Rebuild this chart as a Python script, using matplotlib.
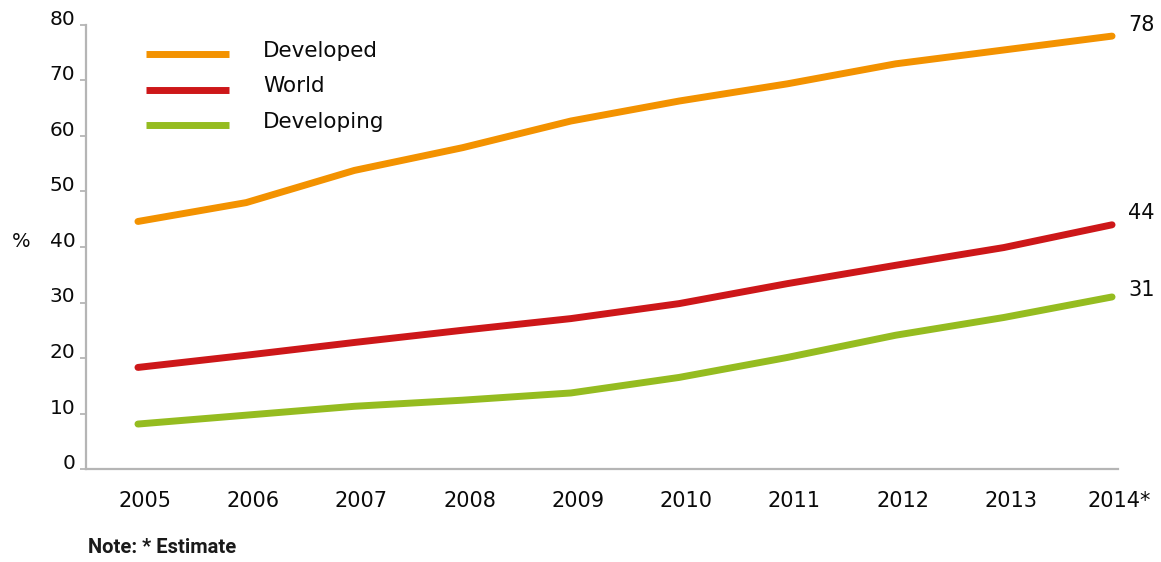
import matplotlib
matplotlib.use("Agg")
import matplotlib.pyplot as plt
from matplotlib.transforms import ScaledTranslation, blended_transform_factory

# Households with Internet access, %
years = [2005, 2006, 2007, 2008, 2009, 2010, 2011, 2012, 2013, 2014]
year_labels = ["2005", "2006", "2007", "2008", "2009", "2010", "2011", "2012", "2013", "2014*"]
developed = [44.6, 48.0, 53.8, 57.9, 62.7, 66.3, 69.4, 73.0, 75.5, 78]
world = [18.3, 20.5, 22.8, 25.0, 27.1, 29.8, 33.4, 36.7, 39.9, 44]
developing = [8.1, 9.7, 11.3, 12.4, 13.7, 16.5, 20.1, 24.1, 27.3, 31]
series_names = ["Developed", "World", "Developing"]
y_ticks = [0, 10, 20, 30, 40, 50, 60, 70, 80]

colors = ["#F39200", "#CD1719", "#95BC20"]
end_offsets = [(16, 5), (16, 6), (16, 1)]  # pixel offsets of the end-value labels
ink = "#0a0a0a"

plt.rcParams["font.family"] = ["DejaVu Sans"]

fig = plt.figure(figsize=(11.61, 5.62), dpi=100)
ax = fig.add_axes([86 / 1161, 93 / 562, 1032 / 1161, 444 / 562])

for vals, name, col, off in zip([developed, world, developing], series_names, colors, end_offsets):
    ax.plot(years, vals, color=col, lw=5.0, solid_capstyle="round",
            solid_joinstyle="round", label=name)
    ax.annotate(f"{vals[-1]:.0f}", xy=(years[-1], vals[-1]), xytext=off,
                textcoords="offset pixels", ha="left", va="baseline",
                fontsize=15, color=ink)

ax.set_xlim(years[0] - 0.48, years[-1] + 0.055)
ax.set_ylim(0, 80)

ax.set_yticks(y_ticks)
ax.set_yticklabels([str(t) for t in y_ticks])
ax.set_xticks(years)
ax.set_xticklabels(year_labels)

grey = "#b5b5b5"
for side in ["top", "right"]:
    ax.spines[side].set_visible(False)
for side in ["left", "bottom"]:
    ax.spines[side].set_color(grey)
    ax.spines[side].set_linewidth(1.6)

ax.tick_params(axis="y", length=4.3, width=1.3, color=grey, pad=3.4,
               labelsize=14.5, labelcolor=ink)
ax.tick_params(axis="x", length=0, pad=16, labelsize=15, labelcolor=ink)
for lab in ax.get_yticklabels():
    lab.set_verticalalignment("baseline")
shift = ScaledTranslation(7 / 100, 0, fig.dpi_scale_trans)
for lab in ax.get_xticklabels():
    lab.set_transform(lab.get_transform() + shift)

# unit label beside the 40 tick
ax.text(12 / 1161, 40, "%", transform=blended_transform_factory(fig.transFigure, ax.transData),
        ha="left", va="baseline", fontsize=14, color=ink)

leg = ax.legend(loc="upper left", bbox_to_anchor=(0.058, 0.964), frameon=False,
                fontsize=15.5, handlelength=3.85, handletextpad=1.6,
                labelspacing=0.72, borderpad=0, borderaxespad=0)
drop = ScaledTranslation(0, -5 / 100, fig.dpi_scale_trans)
for line in leg.get_lines():
    line.set_linewidth(5.0)
    line.set_solid_capstyle("butt")
    line.set_transform(line.get_transform() + drop)
for t in leg.get_texts():
    t.set_color(ink)

fig.text(88 / 1161, 9 / 562, "Note: * Estimate", ha="left", va="baseline",
         fontsize=14.5, fontweight="bold", color="#1a1a1a",
         family=["Roboto", "DejaVu Sans"])

fig.savefig("out.png", dpi=100)
